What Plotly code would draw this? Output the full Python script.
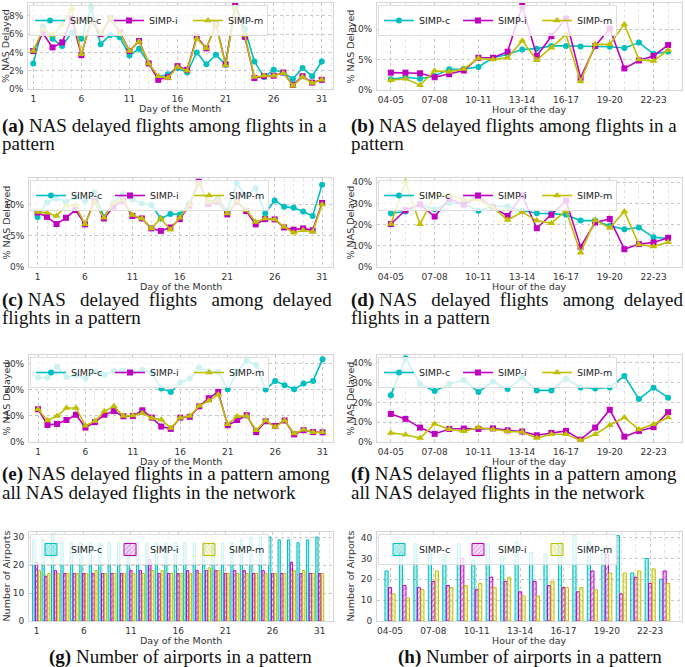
import plotly.graph_objects as go

# ---- data ----
days = list(range(1, 32))
hours = ["04-05", "05-06", "06-07", "07-08", "08-09", "09-10", "10-11", "11-12",
         "12-13", "13-14", "14-15", "15-16", "16-17", "17-18", "18-19", "19-20",
         "20-21", "21-22", "22-23", "23-24"]
hour_pos = list(range(len(hours)))
day_ticks = [1, 6, 11, 16, 21, 26, 31]
hour_ticks = hour_pos[::3]
hour_ticktext = hours[::3]

series = ["SIMP-c", "SIMP-i", "SIMP-m"]
colors = ["#00BFBF", "#BF00BF", "#BFBF00"]
fills = ["rgba(0,191,191,0.25)", "rgba(191,0,191,0.12)", "rgba(191,191,0,0.12)"]
symbols = ["circle", "square", "triangle-up"]
patterns = ["x", "/", "\\"]

# (a) NAS delayed flights among flights in a pattern, by day
a_c = [2.8, 6.8, 5.5, 4.7, 6.2, 5.5, 8.9, 4.9, 5.9, 5.65, 3.65, 4.4, 2.8, 1.3, 1.6, 2.3,
       1.8, 4.0, 2.7, 3.75, 2.65, 9.2, 6.55, 3.0, 1.3, 2.1, 1.8, 1.1, 2.3, 1.4, 3.0]
a_i = [4.15, 6.1, 4.55, 5.1, 7.7, 3.7, 7.45, 6.0, 7.7, 6.2, 4.15, 5.25, 2.8, 1.0, 1.3, 2.5,
       2.1, 5.7, 4.45, 7.1, 2.7, 9.2, 5.7, 1.2, 1.4, 1.45, 1.8, 0.45, 1.4, 0.7, 1.0]
a_m = [4.15, 6.5, 5.9, 7.0, 8.8, 3.8, 7.6, 6.1, 7.8, 6.1, 4.15, 5.2, 2.8, 1.4, 1.2, 2.4,
       2.0, 5.5, 4.45, 7.1, 2.6, 8.9, 5.9, 1.3, 1.45, 1.45, 1.75, 0.35, 1.3, 0.65, 1.0]

# (b) same, by hour
b_c = [1.75, 2.1, 1.85, 2.3, 3.4, 3.45, 3.8, 5.3, 5.85, 6.65, 6.8, 7.25, 7.25, 7.15,
       7.15, 7.1, 6.9, 7.8, 5.95, 6.3]
b_i = [2.85, 2.85, 2.75, 2.1, 2.6, 3.2, 5.3, 5.3, 6.3, 13.8, 5.6, 8.85, 11.75, 2.0,
       7.25, 10.1, 3.55, 4.85, 5.6, 7.4]
b_m = [1.6, 1.85, 0.8, 3.15, 3.0, 3.45, 5.2, 5.0, 5.3, 8.1, 4.9, 6.95, 9.1, 1.4,
       7.5, 7.5, 10.75, 5.0, 4.75, 6.55]

# (c) NAS delayed flights among delayed flights in a pattern, by day
c_c = [8.05, 10.4, 11.0, 10.5, 11.2, 10.65, 12.0, 8.05, 10.3, 11.7, 10.85, 10.2, 9.95, 7.8,
       8.5, 8.45, 10.2, 13.7, 10.4, 11.0, 9.0, 13.45, 11.4, 12.6, 8.6, 10.7, 9.7, 9.5,
       8.9, 8.2, 13.2]
c_i = [8.75, 8.05, 6.9, 7.9, 9.15, 6.85, 10.6, 7.8, 9.7, 10.65, 8.2, 7.8, 6.2, 5.8, 6.35,
       7.7, 9.85, 13.7, 10.1, 10.5, 8.45, 10.5, 9.0, 6.85, 7.7, 7.65, 6.35, 6.0, 6.2, 5.9,
       10.3]
c_m = [8.85, 8.7, 8.2, 9.85, 9.95, 6.85, 10.4, 7.9, 10.3, 10.75, 8.35, 7.8, 6.2, 7.8, 6.0,
       7.9, 9.95, 13.45, 10.4, 10.65, 8.6, 10.6, 9.15, 7.25, 7.8, 7.65, 6.45, 5.5, 5.9,
       5.65, 10.05]

# (d) same, by hour
d_c = [25.4, 26.2, 29.7, 27.3, 30.2, 29.8, 26.5, 28.6, 28.6, 26.7, 25.4, 25.2, 24.6,
       21.9, 21.9, 19.4, 17.8, 18.6, 14.0, 13.5]
d_i = [20.3, 26.8, 29.5, 23.8, 32.2, 29.4, 33.0, 28.1, 24.1, 33.8, 18.3, 24.6, 31.3,
       9.5, 21.0, 22.7, 8.4, 10.8, 11.6, 13.8]
d_m = [20.3, 40.2, 20.2, 34.0, 34.0, 31.7, 31.7, 28.1, 22.2, 25.9, 21.9, 20.6, 26.7,
       6.7, 22.1, 18.4, 26.2, 10.6, 9.7, 11.7]

# (e) NAS delayed flights in a pattern among all NAS delayed flights, by day
e_c = [24.6, 24.5, 28.7, 24.8, 25.5, 24.2, 26.8, 25.7, 27.1, 27.1, 26.4, 27.6, 26.4, 20.4,
       19.1, 22.7, 24.2, 28.4, 26.9, 26.8, 20.1, 26.8, 31.0, 29.4, 20.0, 23.3, 21.7, 20.1,
       22.3, 23.3, 31.6]
e_i = [12.5, 6.5, 6.9, 8.4, 10.4, 5.5, 7.6, 10.4, 11.8, 9.8, 9.9, 12.1, 9.3, 5.9, 5.0, 9.3,
       9.6, 13.6, 16.7, 19.1, 6.4, 8.4, 10.2, 3.8, 7.9, 6.1, 8.2, 2.9, 4.5, 3.8, 3.7]
e_m = [12.5, 8.2, 9.9, 13.0, 13.0, 6.2, 8.0, 11.7, 13.6, 9.9, 10.1, 11.0, 9.2, 8.5, 5.3,
       9.3, 9.9, 13.8, 15.7, 18.1, 6.8, 9.8, 9.9, 4.5, 8.2, 5.7, 8.2, 3.2, 4.7, 3.7, 3.7]

# (f) same, by hour
f_c = [23.7, 42.4, 29.3, 25.8, 29.3, 31.4, 25.3, 30.5, 26.8, 32.6, 26.1, 26.1, 32.0,
       27.6, 27.1, 27.6, 33.4, 21.7, 27.5, 22.4]
f_i = [14.2, 11.7, 7.3, 4.1, 6.6, 6.8, 6.6, 6.9, 5.9, 5.3, 3.4, 4.6, 5.6, 1.2, 7.3, 16.3,
       2.7, 5.6, 7.5, 15.1]
f_m = [4.6, 3.7, 2.0, 9.2, 6.4, 5.4, 7.3, 6.3, 5.4, 5.1, 2.0, 3.9, 3.9, 0.8, 3.9, 8.5,
       12.4, 6.3, 9.0, 12.4]

# (g) number of airports in a pattern, by day
g_c = [29, 29, 31, 28, 28, 28, 28, 28, 28, 28, 28, 28, 28, 28, 28, 28, 28, 28, 28, 28,
       28, 28, 29, 30, 30, 30, 29, 29, 28, 29, 30]
g_i = [21, 16, 18, 17, 17, 17, 17, 17, 17, 17, 18, 18, 22, 17, 17, 17, 18, 18, 18, 18,
       17, 18, 18, 17, 18, 17, 17, 21, 17, 17, 17]
g_m = [18, 17, 17, 17, 17, 17, 18, 17, 17, 17, 17, 17, 18, 18, 17, 17, 17, 17, 19, 18,
       17, 17, 17, 17, 17, 17, 17, 18, 18, 17, 17]

# (h) same, by hour
h_c = [24, 33, 37, 33, 32, 37, 29, 37, 31, 38, 33, 32, 38, 41, 38, 35, 41, 23, 30, 20]
h_i = [16, 17, 16, 19, 17, 30, 15, 21, 19, 14, 19, 17, 16, 14, 24, 32, 13, 21, 18, 24]
h_m = [13, 11, 15, 24, 16, 17, 18, 16, 21, 12, 12, 19, 16, 16, 15, 23, 23, 24, 25, 18]

# ---- layout helpers ----
W, H = 685, 667
boxes = {
    1: (28, 333, 3, 89), 2: (377, 682, 3, 90),
    3: (29, 333, 178, 267), 4: (377, 682, 178, 267),
    5: (29, 333, 355, 442), 6: (377, 682, 355, 442),
    7: (29, 333, 532, 621), 8: (377, 682, 532, 621),
}

fig = go.Figure()
SANS = "DejaVu Sans"
TICKFONT = dict(family=SANS, size=9, color="#333")


def ax(n, kind):
    return kind if n == 1 else f"{kind}{n}"


def legend_key(n):
    return "legend" if n == 1 else f"legend{n}"


def add_lines(n, x, ys):
    for name, y, col, sym in zip(series, ys, colors, symbols):
        fig.add_trace(go.Scatter(
            x=x, y=y, name=name, mode="lines+markers",
            line=dict(color=col, width=1.6),
            marker=dict(symbol=sym, size=6 if sym != "triangle-up" else 7, color=col),
            xaxis=ax(n, "x"), yaxis=ax(n, "y"), legend=legend_key(n)))


def add_bars(n, x, ys, width, offsets):
    for name, y, col, fill, pat, off in zip(series, ys, colors, fills, patterns, offsets):
        fig.add_trace(go.Bar(
            x=x, y=y, name=name, width=width, offset=off,
            marker=dict(color=fill, line=dict(color=col, width=1),
                        pattern=dict(shape=pat, fgcolor=col, bgcolor=fill, size=4, solidity=0.25)),
            xaxis=ax(n, "x"), yaxis=ax(n, "y"), legend=legend_key(n)))


add_lines(1, days, [a_c, a_i, a_m])
add_lines(2, hour_pos, [b_c, b_i, b_m])
add_lines(3, days, [c_c, c_i, c_m])
add_lines(4, hour_pos, [d_c, d_i, d_m])
add_lines(5, days, [e_c, e_i, e_m])
add_lines(6, hour_pos, [f_c, f_i, f_m])
add_bars(7, days, [g_c, g_i, g_m], 0.24, [-0.42, -0.12, 0.18])
add_bars(8, hour_pos, [h_c, h_i, h_m], 0.22, [-0.35, -0.11, 0.13])

yset = {
    1: ([0, 9.4], [0, 2, 4, 6, 8], "%", "% NAS Delayed"),
    2: ([0, 14.3], [0, 5, 10], "%", "% NAS Delayed"),
    3: ([0, 14.3], [0, 5, 10], "%", "% NAS Delayed"),
    4: ([0, 42], [0, 10, 20, 30, 40], "%", "% NAS Delayed"),
    5: ([0, 33.2], [0, 10, 20, 30], "%", "% NAS Delayed"),
    6: ([0, 44], [0, 10, 20, 30, 40], "%", "% NAS Delayed"),
    7: ([0, 31.8], [0, 10, 20, 30], "", "Number of Airports"),
    8: ([0, 42.7], [0, 10, 20, 30, 40], "", "Number of Airports"),
}
xranges = {1: [0.45, 32.17], 3: [0.1, 32.15], 5: [0.05, 32.1], 7: [0.2, 32.4],
           2: [-0.95, 19.95], 4: [-0.95, 19.95], 6: [-0.95, 19.95], 8: [-0.9, 20.2]}

layout = {}
titles = []
for n, (x0, x1, y0, y1) in boxes.items():
    is_day = n % 2 == 1
    yr, yt, suf, ytitle = yset[n]
    layout[ax(n, "xaxis")] = dict(
        domain=[x0 / W, x1 / W], anchor=ax(n, "y"), range=xranges[n], automargin=False,
        tickmode="array",
        tickvals=day_ticks if is_day else hour_ticks,
        ticktext=[str(d) for d in day_ticks] if is_day else hour_ticktext,
        tickfont=TICKFONT, ticks="", ticklabelstandoff=1,
        showgrid=True, gridcolor="#c8c8c8", griddash="dot",
        minor=dict(tickmode="linear", tick0=0, dtick=1, showgrid=True,
                   gridcolor="#e4e4e4", griddash="dot"),
        showline=True, mirror=True, linecolor="#d6d6d6", linewidth=1, zeroline=False,
    )
    layout[ax(n, "yaxis")] = dict(
        domain=[1 - y1 / H, 1 - y0 / H], anchor=ax(n, "x"), range=yr, automargin=False,
        tickmode="array", tickvals=yt, ticktext=[f"{v}{suf}" for v in yt],
        tickfont=TICKFONT, ticks="", ticklabelstandoff=2,
        showgrid=True, gridcolor="#c8c8c8", griddash="dot",
        showline=True, mirror=True, linecolor="#d6d6d6", linewidth=1, zeroline=False,
    )
    layout[legend_key(n)] = dict(
        x=(x0 + 1) / W, y=1 - (y0 + 2) / H, xanchor="left", yanchor="top",
        orientation="h", bgcolor="rgba(255,255,255,0.8)", bordercolor="#dddddd",
        borderwidth=1, font=dict(family=SANS, size=9.5, color="#222"),
        itemwidth=30, entrywidth=34, tracegroupgap=0,
    )
    # axis titles as annotations so they sit where the reference puts them
    titles.append(dict(x=(x0 + x1) / 2 / W, y=1 - (y1 + 19) / H,
                       text="Day of the Month" if is_day else "Hour of the day", textangle=0))
    ty = x0 - 23 if is_day else x0 - 27
    titles.append(dict(x=ty / W, y=1 - (y0 + y1) / 2 / H, text=ytitle, textangle=-90))

fig.update_layout(**layout)
for t in titles:
    fig.add_annotation(xref="paper", yref="paper", showarrow=False, xanchor="center",
                       yanchor="middle", font=dict(family=SANS, size=9.5, color="#333"), **t)

# ---- captions ----
CAP = dict(family="Liberation Serif", size=19, color="#111")
captions = [
    (0, 126, "<b>(a)</b> NAS delayed flights among flights in a"), (0, 143, "pattern"),
    (349, 126, "<b>(b)</b> NAS delayed flights among flights in a"), (349, 143, "pattern"),
    (0, 300, "<b>(c)</b> NAS   delayed  flights   among  delayed"), (0, 318, "flights in a pattern"),
    (349, 300, "<b>(d)</b> NAS   delayed  flights   among  delayed"), (349, 318, "flights in a pattern"),
    (0, 474, "<b>(e)</b> NAS delayed flights in a pattern among"),
    (0, 492, "all NAS delayed flights in the network"),
    (349, 474, "<b>(f)</b> NAS delayed flights in a pattern among"),
    (349, 492, "all NAS delayed flights in the network"),
]
for cx, cy, txt in captions:
    fig.add_annotation(x=cx / W, y=1 - cy / H, xref="paper", yref="paper", text=txt,
                       showarrow=False, xanchor="left", yanchor="middle", align="left", font=CAP)
for cx, cy, txt in [(180, 657, "<b>(g)</b> Number of airports in a pattern"),
                    (530, 657, "<b>(h)</b> Number of airports in a pattern")]:
    fig.add_annotation(x=cx / W, y=1 - cy / H, xref="paper", yref="paper", text=txt,
                       showarrow=False, xanchor="center", yanchor="middle", font=CAP)

fig.update_layout(width=W, height=H, margin=dict(l=0, r=0, t=0, b=0),
                  paper_bgcolor="white", plot_bgcolor="white", barmode="overlay")

# page body margin would shift the figure by 8px
fig.write_html("out.html", config={"displayModeBar": False},
               post_script="document.body.style.margin='0';")
